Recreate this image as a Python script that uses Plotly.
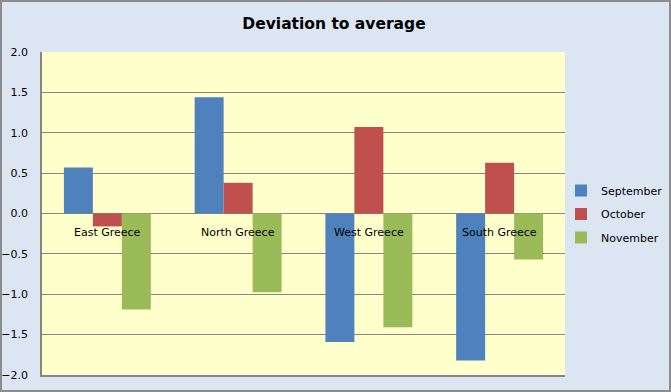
import plotly.graph_objects as go

categories = ["East Greece", "North Greece", "West Greece", "South Greece"]
september = [0.57, 1.44, -1.59, -1.82]
october = [-0.16, 0.38, 1.07, 0.63]
november = [-1.19, -0.975, -1.41, -0.57]
y_ticks = [-2.0, -1.5, -1.0, -0.5, 0.0, 0.5, 1.0, 1.5, 2.0]

W, H = 671, 392
ml, mr, mt, mb = 42, 106, 52, 17
pw, ph = W - ml - mr, H - mt - mb

font = "DejaVu Sans"
fig = go.Figure()
for name, vals, col in [("September", september, "#4f81bd"),
                        ("October", october, "#c0504d"),
                        ("November", november, "#9bbb59")]:
    fig.add_trace(go.Bar(x=categories, y=vals, name=name, marker_color=col,
                         marker_line_width=0, legendgroup=name))

for c in categories:
    fig.add_annotation(x=c, y=0, xref="x", yref="y", text=c, showarrow=False,
                       yanchor="top", yshift=-10,
                       font=dict(family=font, size=11, color="#000000"))

# outer border
fig.add_shape(type="rect", xref="paper", yref="paper",
              x0=(1 - ml) / pw, x1=(W - 1 - ml) / pw,
              y0=-(H - 1 - mt - ph) / ph, y1=1 + (mt - 1) / ph,
              line=dict(color="#8c8c8c", width=2), layer="below")

fig.update_layout(
    width=W, height=H,
    margin=dict(l=ml, r=mr, t=mt, b=mb, autoexpand=False),
    paper_bgcolor="#dce6f2",
    plot_bgcolor="#ffffcc",
    barmode="group", bargap=0.335, bargroupgap=0,
    title=dict(text="<b>Deviation to average</b>", x=334 / W, xref="container",
               xanchor="center", y=1 - 24 / H, yref="container", yanchor="middle",
               font=dict(family=font, size=15.5, color="#000000")),
    font=dict(family=font, size=11, color="#000000"),
    showlegend=True,
    legend=dict(x=561 / W, y=1 - 176 / H, xref="container", yref="container",
                xanchor="left", yanchor="top", traceorder="grouped",
                bgcolor="rgba(0,0,0,0)", font=dict(family=font, size=11),
                itemwidth=30, tracegroupgap=4.5),
    xaxis=dict(showticklabels=False, showgrid=False, showline=True, automargin=False,
               linecolor="#868686", linewidth=1.5, ticks="", mirror=False),
    yaxis=dict(range=[-2, 2], tickvals=y_ticks, tickformat=".1f", automargin=False,
               showgrid=True, gridcolor="#868686", gridwidth=1,
               zeroline=True, zerolinecolor="#868686", zerolinewidth=1,
               showline=True, linecolor="#868686", linewidth=1.5,
               ticks="", ticklabelstandoff=10,
               tickfont=dict(family=font, size=11)),
)

fig.write_html("out.html", config={"displayModeBar": False},
               post_script="document.body.style.margin='0';")
